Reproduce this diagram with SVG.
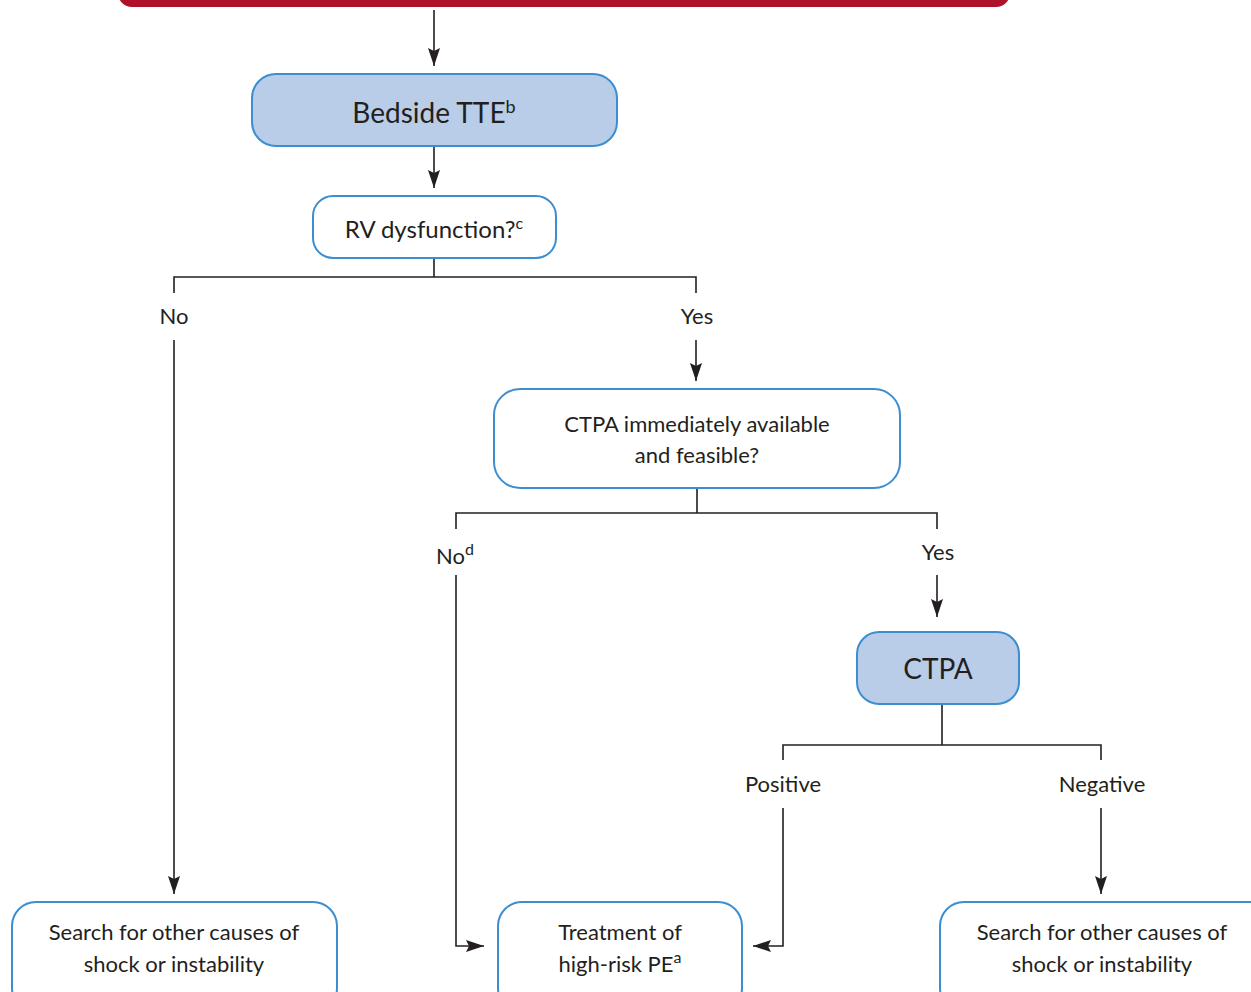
<svg xmlns="http://www.w3.org/2000/svg" width="1251" height="992" viewBox="0 0 1251 992">
<style>
.blue{fill:#b9cde9;stroke:#3c8ed0;stroke-width:2}
.white{fill:#ffffff;stroke:#3c8ed0;stroke-width:2}
.t{font-family:Lato,"Liberation Sans",sans-serif;fill:#231f20;text-anchor:middle;font-size:22px}
.big{font-size:28px}
.c path{fill:none;stroke:#231f20;stroke-width:1.6}
</style>
<defs>
<marker id="ah" viewBox="0 0 18 12" refX="18" refY="6" markerWidth="18" markerHeight="12" markerUnits="userSpaceOnUse" orient="auto">
<path d="M0,0 L18,6 L0,12 L3,6 Z" fill="#231f20"/>
</marker>
</defs>
<rect width="1251" height="992" fill="#ffffff"/>
<g id="top">
<rect x="118" y="-30" width="892" height="37" rx="14" fill="#ae1129"/>
</g>
<g class="c" id="connectors">
<path d="M434,10 V66" marker-end="url(#ah)"/>
<path d="M434,146 V188" marker-end="url(#ah)"/>
<path d="M434,258 V277 M174,293 V277 H696 V293"/>
<path d="M174,340 V894" marker-end="url(#ah)"/>
<path d="M696,340 V381" marker-end="url(#ah)"/>
<path d="M697,488 V513 M456,529 V513 H937 V529"/>
<path d="M456,575 V946 H484" marker-end="url(#ah)"/>
<path d="M937,575 V617" marker-end="url(#ah)"/>
<path d="M942,704 V745 M783,760 V745 H1101 V760"/>
<path d="M783,808 V946 H753" marker-end="url(#ah)"/>
<path d="M1101,808 V894" marker-end="url(#ah)"/>
</g>
<g id="tte">
<rect class="blue" x="252" y="74" width="365" height="72" rx="24"/>
<text class="t big" x="434" y="123">Bedside TTE<tspan font-size="18" dy="-10">b</tspan></text>
</g>
<g id="rv">
<rect class="white" x="313" y="196" width="243" height="62" rx="20"/>
<text class="t" x="434" y="238" style="font-size:24px">RV dysfunction?<tspan font-size="16" dy="-9">c</tspan></text>
</g>
<g id="lbl-no1"><text class="t" x="174" y="324">No</text></g>
<g id="lbl-yes1"><text class="t" x="697" y="324">Yes</text></g>
<g id="ctpa-q">
<rect class="white" x="494" y="389" width="406" height="99" rx="26"/>
<text class="t" x="697" y="432">CTPA immediately available</text>
<text class="t" x="697" y="463">and feasible?</text>
</g>
<g id="lbl-no2"><text class="t" x="455" y="564">No<tspan font-size="16" dy="-9">d</tspan></text></g>
<g id="lbl-yes2"><text class="t" x="938" y="560">Yes</text></g>
<g id="ctpa">
<rect class="blue" x="857" y="632" width="162" height="72" rx="22"/>
<text class="t big" x="938" y="679">CTPA</text>
</g>
<g id="lbl-pos"><text class="t" x="783" y="792">Positive</text></g>
<g id="lbl-neg"><text class="t" x="1102" y="792">Negative</text></g>
<g id="search1">
<rect class="white" x="12" y="902" width="325" height="110" rx="24"/>
<text class="t" x="174" y="940">Search for other causes of</text>
<text class="t" x="174" y="972">shock or instability</text>
</g>
<g id="treat">
<rect class="white" x="498" y="902" width="244" height="110" rx="24"/>
<text class="t" x="620" y="940">Treatment of</text>
<text class="t" x="620" y="972">high-risk PE<tspan font-size="16" dy="-9">a</tspan></text>
</g>
<g id="search2">
<rect class="white" x="940" y="902" width="340" height="110" rx="24"/>
<text class="t" x="1102" y="940">Search for other causes of</text>
<text class="t" x="1102" y="972">shock or instability</text>
</g>
</svg>
